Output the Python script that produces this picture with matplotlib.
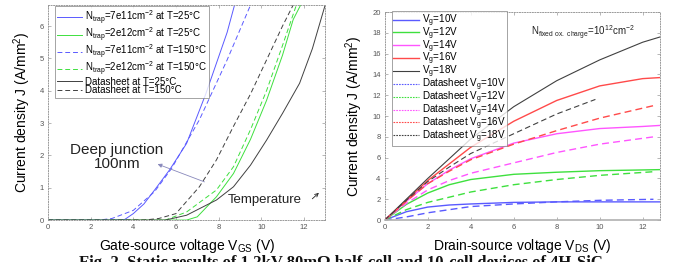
import matplotlib
matplotlib.use("Agg")
import matplotlib.pyplot as plt
import numpy as np

plt.rcParams['font.family'] = ['Liberation Sans', 'DejaVu Sans']
plt.rcParams['mathtext.fontset'] = 'custom'
plt.rcParams['mathtext.rm'] = 'Liberation Sans'
plt.rcParams['mathtext.it'] = 'Liberation Sans'

# ---------------- Left panel data (transfer curves) ----------------
x_b25 = [0, 3.0, 3.6, 4.0, 4.5, 5.0, 5.7, 6.5, 7.4, 8.4, 8.75]
y_b25 = [0, 0, 0.02, 0.2, 0.5, 0.93, 1.55, 2.37, 3.9, 5.8, 6.65]
x_b150 = [0, 2.4, 3.0, 4.0, 5.0, 5.8, 7.1, 8.4, 9.5]
y_b150 = [0, 0, 0.05, 0.3, 0.88, 1.6, 3.1, 4.95, 6.65]
x_g25 = [0, 6.5, 7.0, 7.9, 8.7, 9.5, 10.25, 11.0, 11.5, 11.85]
y_g25 = [0, 0, 0.1, 0.72, 1.44, 2.5, 3.7, 5.1, 6.2, 6.65]
x_g150 = [0, 5.5, 6.5, 7.9, 8.7, 9.5, 10.25, 11.0, 11.65]
y_g150 = [0, 0, 0.25, 0.93, 1.65, 2.8, 4.0, 5.4, 6.65]
x_d25 = [0, 5.5, 6.5, 7.9, 8.7, 9.5, 10.25, 11.0, 11.8, 12.4, 13.0]
y_d25 = [0, 0, 0.15, 0.62, 1.03, 1.7, 2.47, 3.3, 4.23, 5.3, 6.65]
x_d150 = [0, 4.5, 5.2, 6.0, 7.1, 7.9, 8.7, 9.5, 10.25, 11.0, 11.5]
y_d150 = [0, 0, 0.05, 0.2, 1.03, 1.86, 2.9, 3.9, 4.95, 6.0, 6.65]

# ---------------- Right panel data (output curves) ----------------
vds_sim = [0, 1, 2, 3, 4, 6, 8, 10, 12, 12.8]
j_vg10 = [0, 0.8, 1.25, 1.45, 1.55, 1.7, 1.75, 1.75, 1.75, 1.75]
j_vg12 = [0, 1.5, 2.6, 3.4, 3.9, 4.4, 4.6, 4.75, 4.82, 4.85]
j_vg14 = [0, 1.8, 3.5, 4.8, 5.9, 7.4, 8.3, 8.8, 9.0, 9.1]
j_vg16 = [0, 1.9, 3.8, 5.4, 7.0, 9.5, 11.5, 12.9, 13.6, 13.7]
j_vg18 = [0, 2.0, 4.0, 5.9, 7.8, 10.9, 13.4, 15.4, 17.1, 17.6]

vds_ds = [0, 1, 2, 3, 4, 6, 8, 10, 12.5]
jd_vg10 = [0, 0.3, 0.7, 1.0, 1.3, 1.55, 1.75, 1.9, 2.0]
jd_vg12 = [0, 1.0, 1.7, 2.2, 2.7, 3.4, 3.9, 4.3, 4.65]
jd_vg14 = [0, 1.6, 2.9, 3.8, 4.5, 5.5, 6.5, 7.3, 8.0]
jd_vg16 = [0, 1.8, 3.5, 4.7, 5.8, 7.3, 8.6, 9.8, 11.0]
vds_ds18 = [0, 1, 2, 3, 4, 6, 8, 9.8]
jd_vg18 = [0, 1.9, 3.7, 5.1, 6.4, 8.3, 10.2, 11.6]

BLUE = '#5a5aff'
GREEN = '#3ee03e'
MAG = '#ff55ff'
RED = '#ff4a4a'
BLK = '#404040'

fig = plt.figure(figsize=(6.81, 2.62), dpi=100)
axL = fig.add_axes([0.0705, 0.160, 0.407, 0.821])
axR = fig.add_axes([0.565, 0.160, 0.404, 0.794])

def style(ax):
    for s in ax.spines.values():
        s.set_color('#9a9a9a')
        s.set_linewidth(0.7)
        s.set_linestyle(':')
    ax.tick_params(direction='in', length=2.5, width=0.5, colors='#9a9a9a',
                   labelsize=5.5, labelcolor='#555555', top=True, right=True, pad=3)

# Left panel
lw = 0.7
axL.plot(x_b25, y_b25, color=BLUE, lw=lw, label=r'N$_{\rm trap}$=7e11cm$^{-2}$ at T=25°C')
axL.plot(x_g25, y_g25, color=GREEN, lw=lw, label=r'N$_{\rm trap}$=2e12cm$^{-2}$ at T=25°C')
axL.plot(x_b150, y_b150, color=BLUE, lw=lw, ls=(0, (5, 3)), label=r'N$_{\rm trap}$=7e11cm$^{-2}$ at T=150°C')
axL.plot(x_g150, y_g150, color=GREEN, lw=lw, ls=(0, (5, 3)), label=r'N$_{\rm trap}$=2e12cm$^{-2}$ at T=150°C')
axL.plot(x_d25, y_d25, color=BLK, lw=lw, label='Datasheet at T=25°C')
axL.plot(x_d150, y_d150, color=BLK, lw=lw, ls=(0, (5, 3)), label='Datasheet at T=150°C')
axL.set_xlim(0, 13)
axL.set_ylim(0, 6.65)
axL.set_xticks(range(0, 13, 2))
axL.set_yticks(range(0, 7))
style(axL)
axL.set_xlabel(r'Gate-source voltage V$_{\rm GS}$ (V)', fontsize=10, labelpad=4)
axL.set_ylabel(r'Current density J (A/mm$^2$)', fontsize=10, labelpad=5)
legL = axL.legend(loc='upper left', bbox_to_anchor=(0.025, 0.995), fontsize=7,
                  frameon=True, fancybox=False, edgecolor='#7a7a7a', handlelength=2.5,
                  handletextpad=0.3, borderpad=0.25, labelspacing=-0.12, borderaxespad=0)
legL.get_frame().set_linewidth(0.6)

axL.text(3.24, 1.95, 'Deep junction\n100nm', ha='center', va='center', fontsize=11,
         linespacing=1.0, color='#222222')
axL.annotate('', xy=(5.02, 1.76), xytext=(7.46, 1.15),
             arrowprops=dict(arrowstyle='-|>', color='#8888bb', lw=0.6,
                             mutation_scale=6))
axL.text(8.45, 0.62, 'Temperature', ha='left', va='center', fontsize=9.5, color='#222222')
axL.annotate('', xy=(12.8, 0.9), xytext=(12.3, 0.6),
             arrowprops=dict(arrowstyle='->', color='#222222', lw=0.6, mutation_scale=6))

# Right panel
lw2 = 1.0
axR.plot(vds_sim, j_vg10, color=BLUE, lw=lw2, label=r'V$_{\rm g}$=10V')
axR.plot(vds_sim, j_vg12, color=GREEN, lw=lw2, label=r'V$_{\rm g}$=12V')
axR.plot(vds_sim, j_vg14, color=MAG, lw=lw2, label=r'V$_{\rm g}$=14V')
axR.plot(vds_sim, j_vg16, color=RED, lw=lw2, label=r'V$_{\rm g}$=16V')
axR.plot(vds_sim, j_vg18, color=BLK, lw=lw2 * 0.8, label=r'V$_{\rm g}$=18V')
ds = (0, (5, 3))
axR.plot(vds_ds, jd_vg10, color=BLUE, lw=lw2, ls=ds, label=r'Datasheet V$_{\rm g}$=10V')
axR.plot(vds_ds, jd_vg12, color=GREEN, lw=lw2, ls=ds, label=r'Datasheet V$_{\rm g}$=12V')
axR.plot(vds_ds, jd_vg14, color=MAG, lw=lw2, ls=ds, label=r'Datasheet V$_{\rm g}$=14V')
axR.plot(vds_ds, jd_vg16, color=RED, lw=lw2, ls=ds, label=r'Datasheet V$_{\rm g}$=16V')
axR.plot(vds_ds18, jd_vg18, color=BLK, lw=lw2 * 0.8, ls=ds, label=r'Datasheet V$_{\rm g}$=18V')
axR.set_xlim(0, 12.8)
axR.set_ylim(0, 20)
axR.set_xticks(range(0, 13, 2))
axR.set_yticks(range(0, 21, 2))
style(axR)
axR.spines['bottom'].set_linestyle('-')
axR.spines['bottom'].set_linewidth(1.2)
axR.spines['bottom'].set_color('#b0b0b0')
axR.set_xlabel(r'Drain-source voltage V$_{\rm DS}$ (V)', fontsize=10, labelpad=4)
axR.set_ylabel(r'Current density J (A/mm$^2$)', fontsize=10, labelpad=5)
legR = axR.legend(loc='upper left', bbox_to_anchor=(0.025, 1.005), fontsize=7.1,
                  frameon=True, fancybox=False, edgecolor='#7a7a7a', handlelength=2.6,
                  handletextpad=0.3, borderpad=0.15, labelspacing=-0.36, borderaxespad=0)
legR.get_frame().set_linewidth(0.6)
for h in legR.get_lines()[5:]:
    h.set_linestyle((0, (1.5, 1)))
    h.set_linewidth(0.8)
axR.text(0.53, 0.90, r'N$_{\rm fixed\ ox.\ charge}$=10$^{12}$cm$^{-2}$', transform=axR.transAxes,
         fontsize=7, ha='left', va='center', color='#222222')

# Partially visible caption at the bottom edge
fig.text(0.5, 0.026, 'Fig. 2. Static results of 1.2kV 80mΩ half-cell and 10-cell devices of 4H-SiC',
         ha='center', va='top', fontsize=12, family=['Liberation Serif', 'DejaVu Serif'],
         fontweight='bold', color='#111111')

fig.savefig('out.png', dpi=100)
